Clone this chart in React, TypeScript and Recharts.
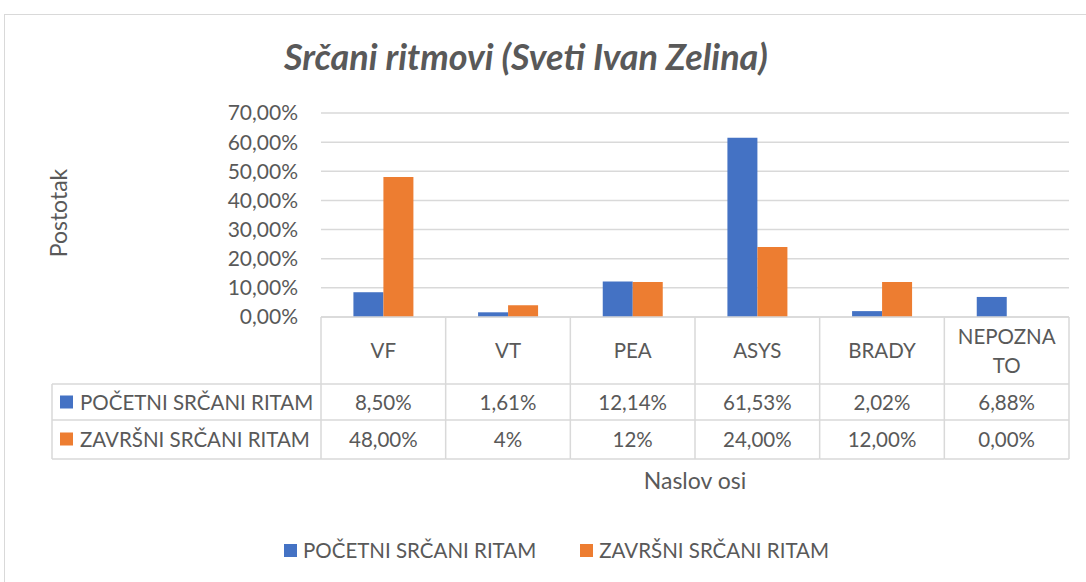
import { BarChart, Bar, XAxis, YAxis, CartesianGrid, Legend } from 'recharts';

const categories = ['VF', 'VT', 'PEA', 'ASYS', 'BRADY', 'NEPOZNATO'];
const pocetni = [8.5, 1.61, 12.14, 61.53, 2.02, 6.88];
const zavrsni = [48, 4, 12, 24, 12, 0];
// decimals as shown in the data table
const pocetniDecimals = [2, 2, 2, 2, 2, 2];
const zavrsniDecimals = [2, 0, 0, 2, 2, 2];
const yTicks = [0, 10, 20, 30, 40, 50, 60, 70];
const seriesNames = ['POČETNI SRČANI RITAM', 'ZAVRŠNI SRČANI RITAM'];
const seriesColors = ['#4472C4', '#ED7D31'];

const data = categories.map((name, i) => ({
  name,
  pocetni: pocetni[i],
  zavrsni: zavrsni[i],
}));

const W = 1086;
const H = 582;
const PLOT_LEFT = 321;
const PLOT_RIGHT = 1069;
const TABLE_LEFT = 52;
const CW = (PLOT_RIGHT - PLOT_LEFT) / categories.length;
const FONT = 'Lato, sans-serif';
const TXT = '#595959';
const GRID = '#d9d9d9';

const fmt = (v: number, d = 2) => v.toFixed(d).replace('.', ',') + '%';

function TableTick(props: any) {
  const { x, y, payload, index } = props;
  const left = x - CW / 2;
  const right = x + CW / 2;
  const name: string = payload.value;
  const lines = name.length > 7 ? [name.slice(0, 7), name.slice(7)] : [name];
  const rows = [y + 67, y + 103, y + 142];
  const textProps = { fill: TXT, fontSize: 20.5, fontFamily: FONT, textAnchor: 'middle' as const, dominantBaseline: 'central' as const };
  return (
    <g>
      <line x1={left} y1={y} x2={left} y2={y + 142} stroke={GRID} strokeWidth={1.5} />
      {index === categories.length - 1 && (
        <line x1={right} y1={y} x2={right} y2={y + 142} stroke={GRID} strokeWidth={1.5} />
      )}
      {rows.map((ry, k) => (
        <line key={k} x1={left} y1={ry} x2={right} y2={ry} stroke={GRID} strokeWidth={1.5} />
      ))}
      {lines.length === 1 ? (
        <text x={x} y={y + 33} {...textProps}>{lines[0]}</text>
      ) : (
        lines.map((l, k) => (
          <text key={k} x={x} y={y + 19 + k * 29} {...textProps}>{l}</text>
        ))
      )}
      <text x={x} y={y + 85} {...textProps}>{fmt(pocetni[index], pocetniDecimals[index])}</text>
      <text x={x} y={y + 122} {...textProps}>{fmt(zavrsni[index], zavrsniDecimals[index])}</text>
      {index === 0 && (
        <g>
          <line x1={TABLE_LEFT} y1={y + 67} x2={TABLE_LEFT} y2={y + 142} stroke={GRID} strokeWidth={1.5} />
          {rows.map((ry, k) => (
            <line key={k} x1={TABLE_LEFT} y1={ry} x2={left} y2={ry} stroke={GRID} strokeWidth={1.5} />
          ))}
          {seriesNames.map((s, k) => {
            const cy = k === 0 ? y + 85 : y + 122;
            return (
              <g key={s}>
                <rect x={TABLE_LEFT + 8} y={cy - 6.5} width={13} height={13} fill={seriesColors[k]} />
                <text x={TABLE_LEFT + 28} y={cy} fill={TXT} fontSize={20.5} fontFamily={FONT} dominantBaseline="central">
                  {s}
                </text>
              </g>
            );
          })}
        </g>
      )}
    </g>
  );
}

function BottomLegend(props: any) {
  const { payload } = props;
  return (
    <div style={{ display: 'flex', alignItems: 'center', fontFamily: FONT, fontSize: 20.5, color: TXT }}>
      {payload.map((p: any, k: number) => (
        <div key={k} style={{ display: 'flex', alignItems: 'center', marginRight: 44 }}>
          <span style={{ display: 'inline-block', width: 13, height: 13, background: p.color, marginRight: 6 }} />
          <span>{p.value}</span>
        </div>
      ))}
    </div>
  );
}

export default function App() {
  return (
    <div style={{ position: 'absolute', left: 0, top: 0, width: W, height: H, background: '#fff', overflow: 'hidden' }}>
      <div
        style={{
          position: 'absolute',
          left: 4,
          top: 14,
          width: W + 20,
          height: H + 20,
          borderTop: `1.5px solid ${GRID}`,
          borderLeft: `1.5px solid ${GRID}`,
        }}
      />
      <div
        style={{
          position: 'absolute',
          left: 0,
          top: 34,
          width: 1052,
          textAlign: 'center',
          fontFamily: FONT,
          fontSize: 36,
          fontWeight: 700,
          fontStyle: 'italic',
          color: TXT,
          whiteSpace: 'nowrap',
        }}
      >
        Srčani ritmovi (Sveti Ivan Zelina)
      </div>
      <div
        style={{
          position: 'absolute',
          left: 58,
          top: 213,
          transform: 'translate(-50%, -50%) rotate(-90deg)',
          fontFamily: FONT,
          fontSize: 23,
          color: TXT,
          whiteSpace: 'nowrap',
        }}
      >
        Postotak
      </div>
      <div style={{ position: 'absolute', left: 0, top: 0 }}>
        <BarChart
          width={W}
          height={H}
          data={data}
          margin={{ top: 113, right: W - PLOT_RIGHT, bottom: 123, left: 0 }}
          barCategoryGap="26%"
          barGap={0}
        >
          <CartesianGrid vertical={false} stroke={GRID} strokeWidth={1.5} />
          <XAxis
            dataKey="name"
            height={142}
            axisLine={{ stroke: GRID, strokeWidth: 1.5 }}
            tickLine={false}
            tickSize={0}
            tickMargin={0}
            interval={0}
            tick={<TableTick />}
            label={{ value: 'Naslov osi', position: 'bottom', offset: 14, fill: TXT, fontSize: 23, fontFamily: FONT }}
          />
          <YAxis
            width={PLOT_LEFT}
            domain={[0, 70]}
            ticks={yTicks}
            interval={0}
            axisLine={false}
            tickLine={false}
            tickSize={0}
            tickMargin={23}
            tickFormatter={(v: number) => fmt(v)}
            tick={{ fill: TXT, fontSize: 21, fontFamily: FONT }}
          />
          <Legend
            verticalAlign="middle"
            align="center"
            wrapperStyle={{ top: 538, left: 284, width: 700 }}
            content={<BottomLegend />}
          />
          <Bar dataKey="pocetni" name={seriesNames[0]} fill={seriesColors[0]} isAnimationActive={false} />
          <Bar dataKey="zavrsni" name={seriesNames[1]} fill={seriesColors[1]} isAnimationActive={false} />
        </BarChart>
      </div>
    </div>
  );
}
